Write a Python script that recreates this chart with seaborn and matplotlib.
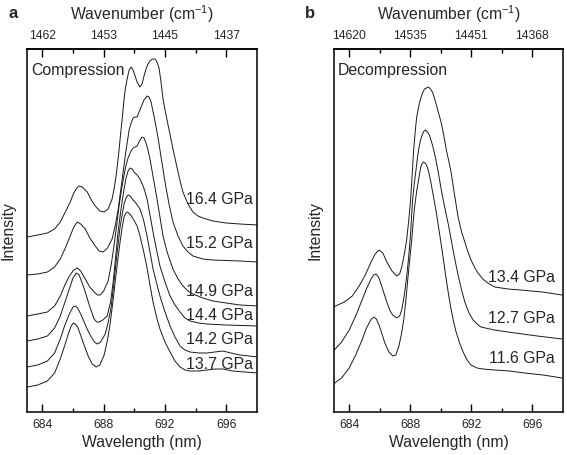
# Ruby fluorescence spectra, compression / decompression
import matplotlib
matplotlib.use('Agg')
import matplotlib.pyplot as plt
import seaborn as sns

# ---------------- DATA ----------------
# panel a, compression
wl_164 = [683.02, 683.70, 684.33, 684.80, 685.17, 685.50, 685.82, 686.05, 686.25, 686.41,
          686.60, 686.80, 686.93, 687.20, 687.45, 687.75, 688.03, 688.29, 688.55, 688.70,
          688.81, 688.91, 689.01, 689.11, 689.20, 689.33, 689.43, 689.53, 689.66, 689.79,
          689.92, 690.05, 690.18, 690.37, 690.50, 690.63, 690.76, 690.89, 691.02, 691.18,
          691.35, 691.48, 691.61, 691.74, 691.87, 692.03, 692.20, 692.52, 692.85, 693.00,
          693.17, 693.50, 693.82, 694.15, 694.47, 695.12, 696.00, 696.88, 698.05]
int_164 = [1.75, 1.77, 1.79, 1.83, 1.90, 2.00, 2.10, 2.19, 2.24, 2.26,
           2.25, 2.22, 2.20, 2.12, 2.06, 2.01, 2.00, 2.03, 2.13, 2.25,
           2.36, 2.49, 2.63, 2.79, 2.92, 3.13, 3.25, 3.33, 3.42, 3.45,
           3.42, 3.36, 3.30, 3.25, 3.28, 3.36, 3.43, 3.48, 3.51, 3.53,
           3.53, 3.50, 3.44, 3.30, 3.13, 3.00, 2.87, 2.63, 2.40, 2.30,
           2.20, 2.08, 2.00, 1.96, 1.94, 1.91, 1.89, 1.88, 1.87]

wl_152 = [683.02, 683.70, 684.33, 684.80, 685.17, 685.50, 685.82, 686.05, 686.28, 686.50,
          686.80, 687.10, 687.45, 687.70, 687.97, 688.25, 688.55, 688.75, 688.94, 689.07,
          689.20, 689.33, 689.46, 689.56, 689.66, 689.79, 689.92, 690.05, 690.18, 690.31,
          690.44, 690.63, 690.83, 690.96, 691.09, 691.28, 691.48, 691.61, 691.74, 691.87,
          692.00, 692.13, 692.26, 692.52, 692.85, 693.17, 693.50, 693.82, 694.47, 695.12,
          696.88, 698.05]
int_152 = [1.37, 1.38, 1.40, 1.45, 1.53, 1.64, 1.76, 1.85, 1.90, 1.88,
           1.83, 1.74, 1.66, 1.61, 1.60, 1.64, 1.73, 1.86, 2.02, 2.17,
           2.32, 2.47, 2.62, 2.72, 2.82, 2.89, 2.94, 2.95, 2.95, 3.00,
           3.05, 3.12, 3.16, 3.15, 3.10, 2.96, 2.80, 2.68, 2.55, 2.43,
           2.30, 2.19, 2.08, 1.90, 1.76, 1.66, 1.60, 1.56, 1.53, 1.52,
           1.51, 1.50]

wl_149 = [683.02, 683.70, 684.33, 684.80, 685.17, 685.50, 685.76, 686.05, 686.28, 686.50,
          686.80, 687.10, 687.38, 687.60, 687.77, 688.00, 688.29, 688.50, 688.68, 688.85,
          689.01, 689.17, 689.33, 689.46, 689.59, 689.75, 689.92, 690.05, 690.18, 690.30,
          690.50, 690.63, 690.76, 690.89, 691.02, 691.25, 691.48, 691.67, 691.87, 692.05,
          692.20, 692.52, 692.85, 693.17, 693.50, 693.82, 694.47, 695.12, 696.00, 696.88,
          698.05]
int_149 = [0.96, 0.98, 1.00, 1.06, 1.16, 1.28, 1.36, 1.42, 1.44, 1.41,
           1.33, 1.25, 1.20, 1.17, 1.17, 1.21, 1.31, 1.48, 1.67, 1.87,
           2.07, 2.23, 2.37, 2.47, 2.54, 2.60, 2.64, 2.65, 2.66, 2.70,
           2.75, 2.74, 2.69, 2.62, 2.53, 2.33, 2.13, 1.95, 1.76, 1.65,
           1.57, 1.43, 1.33, 1.26, 1.21, 1.18, 1.14, 1.11, 1.09, 1.07,
           1.06]

wl_144 = [683.02, 683.70, 684.33, 684.80, 685.17, 685.50, 685.76, 686.00, 686.21, 686.40,
          686.60, 686.80, 687.10, 687.38, 687.55, 687.71, 687.95, 688.23, 688.45, 688.62,
          688.78, 688.94, 689.07, 689.20, 689.33, 689.46, 689.59, 689.72, 689.85, 689.98,
          690.18, 690.37, 690.60, 690.83, 691.02, 691.22, 691.45, 691.67, 692.00, 692.33,
          692.65, 692.98, 693.30, 693.63, 694.20, 694.73, 696.00, 698.05]
int_144 = [0.71, 0.73, 0.76, 0.84, 0.96, 1.11, 1.23, 1.34, 1.39, 1.37,
           1.29, 1.20, 1.05, 0.93, 0.90, 0.90, 0.92, 0.96, 1.10, 1.30,
           1.55, 1.80, 1.96, 2.10, 2.23, 2.34, 2.41, 2.44, 2.43, 2.40,
           2.37, 2.33, 2.25, 2.13, 1.97, 1.80, 1.62, 1.46, 1.30, 1.16,
           1.07, 1.00, 0.94, 0.91, 0.89, 0.88, 0.87, 0.86]

wl_142 = [683.02, 683.70, 684.33, 684.80, 685.17, 685.45, 685.76, 686.00, 686.15, 686.30,
          686.50, 686.67, 686.95, 687.19, 687.40, 687.58, 687.80, 688.10, 688.30, 688.49,
          688.65, 688.81, 688.95, 689.07, 689.20, 689.33, 689.46, 689.59, 689.72, 689.92,
          690.15, 690.37, 690.60, 690.83, 691.02, 691.22, 691.45, 691.67, 692.00, 692.33,
          692.65, 692.98, 693.30, 693.63, 694.20, 694.73, 695.25, 695.77, 696.30, 696.88,
          698.05]
int_142 = [0.45, 0.47, 0.51, 0.59, 0.73, 0.86, 0.98, 1.05, 1.06, 1.04,
           0.98, 0.92, 0.82, 0.75, 0.70, 0.68, 0.70, 0.78, 0.90, 1.05,
           1.27, 1.50, 1.69, 1.85, 1.97, 2.08, 2.14, 2.17, 2.16, 2.12,
           2.08, 2.03, 1.92, 1.76, 1.60, 1.43, 1.29, 1.16, 1.00, 0.86,
           0.75, 0.66, 0.62, 0.60, 0.59, 0.59, 0.60, 0.61, 0.59, 0.57,
           0.55]

wl_137 = [683.02, 683.70, 684.33, 684.80, 685.17, 685.45, 685.69, 685.88, 686.02, 686.15,
          686.30, 686.47, 686.70, 686.99, 687.25, 687.51, 687.75, 688.03, 688.25, 688.42,
          688.60, 688.75, 688.92, 689.07, 689.20, 689.33, 689.45, 689.55, 689.70, 689.85,
          690.00, 690.18, 690.37, 690.60, 690.83, 691.02, 691.22, 691.45, 691.67, 692.00,
          692.33, 692.65, 692.98, 693.30, 693.63, 694.20, 694.73, 695.25, 695.77, 696.40,
          697.20, 698.05]
int_137 = [0.25, 0.27, 0.31, 0.39, 0.53, 0.66, 0.78, 0.86, 0.89, 0.88,
           0.85, 0.78, 0.68, 0.56, 0.48, 0.45, 0.47, 0.57, 0.72, 0.88,
           1.10, 1.30, 1.52, 1.70, 1.84, 1.95, 1.99, 2.00, 1.98, 1.95,
           1.91, 1.86, 1.76, 1.61, 1.44, 1.27, 1.10, 0.95, 0.83, 0.70,
           0.60, 0.51, 0.45, 0.42, 0.41, 0.41, 0.42, 0.43, 0.43, 0.41,
           0.40, 0.39]

# panel b, decompression
wl_134 = [682.96, 683.68, 684.20, 684.65, 685.05, 685.43, 685.70, 685.95, 686.20, 686.46,
          686.80, 687.11, 687.30, 687.44, 687.60, 687.76, 687.90, 688.02, 688.12, 688.22,
          688.32, 688.41, 688.54, 688.67, 688.80, 688.93, 689.06, 689.19, 689.32, 689.45,
          689.58, 689.71, 689.87, 690.03, 690.20, 690.36, 690.52, 690.68, 690.90, 691.13,
          691.36, 691.59, 691.78, 691.98, 692.20, 692.43, 692.75, 693.08, 693.53, 694.40,
          695.22, 696.65, 697.94]
int_134 = [1.05, 1.10, 1.16, 1.26, 1.37, 1.50, 1.58, 1.62, 1.59, 1.50,
           1.41, 1.36, 1.38, 1.45, 1.57, 1.72, 1.92, 2.12, 2.37, 2.62,
           2.80, 2.94, 3.05, 3.13, 3.19, 3.23, 3.24, 3.25, 3.23, 3.20,
           3.14, 3.07, 2.98, 2.89, 2.76, 2.62, 2.51, 2.39, 2.17, 1.95,
           1.80, 1.69, 1.60, 1.52, 1.45, 1.39, 1.33, 1.29, 1.25, 1.23,
           1.22, 1.20, 1.17]

wl_127 = [682.96, 683.50, 684.00, 684.45, 684.84, 685.15, 685.43, 685.60, 685.75, 685.92,
          686.08, 686.27, 686.46, 686.65, 686.85, 687.11, 687.30, 687.44, 687.60, 687.76,
          687.90, 688.02, 688.08, 688.15, 688.25, 688.35, 688.45, 688.54, 688.67, 688.80,
          688.90, 688.99, 689.12, 689.25, 689.45, 689.64, 689.84, 690.03, 690.29, 690.50,
          690.68, 690.90, 691.13, 691.36, 691.59, 691.85, 692.11, 692.37, 692.63, 693.50,
          694.38, 695.35, 696.32, 697.94]
int_127 = [0.61, 0.70, 0.82, 0.97, 1.12, 1.24, 1.33, 1.37, 1.38, 1.35,
           1.28, 1.19, 1.10, 1.02, 0.97, 0.94, 0.96, 1.02, 1.16, 1.35,
           1.56, 1.79, 1.95, 2.12, 2.27, 2.39, 2.52, 2.62, 2.72, 2.78,
           2.81, 2.82, 2.80, 2.77, 2.67, 2.55, 2.39, 2.22, 2.02, 1.87,
           1.72, 1.54, 1.37, 1.22, 1.09, 0.99, 0.92, 0.88, 0.85, 0.82,
           0.80, 0.78, 0.76, 0.73]

wl_116 = [682.96, 683.50, 684.00, 684.45, 684.84, 685.10, 685.30, 685.45, 685.62, 685.78,
          685.95, 686.15, 686.33, 686.60, 686.85, 687.05, 687.24, 687.42, 687.57, 687.70,
          687.83, 687.96, 688.09, 688.19, 688.28, 688.41, 688.54, 688.67, 688.76, 688.86,
          688.96, 689.06, 689.19, 689.32, 689.51, 689.71, 689.87, 690.03, 690.20, 690.36,
          690.52, 690.68, 690.84, 691.00, 691.23, 691.46, 691.72, 691.98, 692.37, 692.76,
          693.53, 694.50, 695.48, 696.70, 697.94]
int_116 = [0.28, 0.34, 0.44, 0.58, 0.72, 0.83, 0.89, 0.93, 0.95, 0.93,
           0.87, 0.78, 0.69, 0.60, 0.56, 0.57, 0.65, 0.78, 0.92, 1.10,
           1.32, 1.52, 1.72, 1.90, 2.05, 2.20, 2.32, 2.44, 2.48, 2.50,
           2.49, 2.47, 2.41, 2.32, 2.16, 1.99, 1.83, 1.67, 1.49, 1.32,
           1.16, 1.02, 0.90, 0.80, 0.69, 0.60, 0.52, 0.47, 0.44, 0.43,
           0.42, 0.41, 0.39, 0.37, 0.34]

comp_wl = [wl_164, wl_152, wl_149, wl_144, wl_142, wl_137]
comp_int = [int_164, int_152, int_149, int_144, int_142, int_137]
comp_labels = ['16.4 GPa', '15.2 GPa', '14.9 GPa', '14.4 GPa', '14.2 GPa', '13.7 GPa']

decomp_wl = [wl_134, wl_127, wl_116]
decomp_int = [int_134, int_127, int_116]
decomp_labels = ['13.4 GPa', '12.7 GPa', '11.6 GPa']

wl_ticks = [684, 688, 692, 696]
wl_minor = [686, 690, 694]
wn_labels_a = ['1462', '1453', '1445', '1437']
wn_labels_b = ['14620', '14535', '14451', '14368']

# ---------------- STYLE ----------------
sns.set_style('ticks')
plt.rcParams.update({
    'font.family': ['Liberation Sans', 'DejaVu Sans'],
    'mathtext.fontset': 'custom',
    'mathtext.rm': 'Liberation Sans',
    'axes.edgecolor': 'black',
    'axes.linewidth': 1.1,
})

fig = plt.figure(figsize=(5.67, 4.55), dpi=100)
ax_a = fig.add_axes([0.0476, 0.0945, 0.4057, 0.7978])
ax_b = fig.add_axes([0.589, 0.0945, 0.4039, 0.7978])

# label y positions (axes data units)
lab_y_a = [2.13, 1.69, 1.21, 0.97, 0.73, 0.48]
lab_y_b = [1.35, 0.94, 0.54]


def draw_panel(ax, wn_labels, title, wls, ints, labels, lab_y, lab_x):
    for x, y in zip(wls, ints):
        sns.lineplot(x=x, y=y, ax=ax, color='#1a1a1a', lw=0.7, sort=False)
    for lab, yy in zip(labels, lab_y):
        ax.text(lab_x, yy, lab, ha='right', va='center', fontsize=11.4)
    ax.text(0.018, 0.942, title, transform=ax.transAxes, ha='left', va='center', fontsize=11.4)

    ax.set_xlim(683, 698)
    ax.set_ylim(0, 3.63)
    ax.set_yticks([])
    ax.set_xticks(wl_ticks)
    ax.set_xticks(wl_minor, minor=True)
    ax.set_xlabel('Wavelength (nm)', fontsize=11.3, labelpad=3)
    ax.set_ylabel('Intensity', fontsize=11.3, labelpad=8)

    # wavenumber axis on top, same tick positions
    top = ax.secondary_xaxis('top')
    top.set_xticks(wl_ticks)
    top.set_xticklabels(wn_labels)
    top.set_xticks(wl_minor, minor=True)
    top.set_xlabel('Wavenumber (cm$^{-1}$)', fontsize=11.3, labelpad=7)

    for a in (ax, top):
        a.tick_params(axis='x', which='both', direction='in', length=0,
                      labelsize=8.7, pad=5)

    # inward tick marks drawn as short segments at the tick positions
    xt = ax.get_xaxis_transform()
    ax.vlines(wl_ticks, 0, 0.022, transform=xt, colors='black', lw=1.0)
    ax.vlines(wl_ticks, 0.978, 1, transform=xt, colors='black', lw=1.0)
    ax.vlines(wl_minor, 0, 0.011, transform=xt, colors='black', lw=1.0)
    ax.vlines(wl_minor, 0.989, 1, transform=xt, colors='black', lw=1.0)


draw_panel(ax_a, wn_labels_a, 'Compression', comp_wl, comp_int, comp_labels, lab_y_a, 697.75)
draw_panel(ax_b, wn_labels_b, 'Decompression', decomp_wl, decomp_int, decomp_labels, lab_y_b, 697.45)

fig.text(13 / 567, 1 - 14 / 455, 'a', fontsize=12, fontweight='bold', ha='center', va='center')
fig.text(310 / 567, 1 - 14 / 455, 'b', fontsize=12, fontweight='bold', ha='center', va='center')

fig.savefig('out.png', dpi=100)
